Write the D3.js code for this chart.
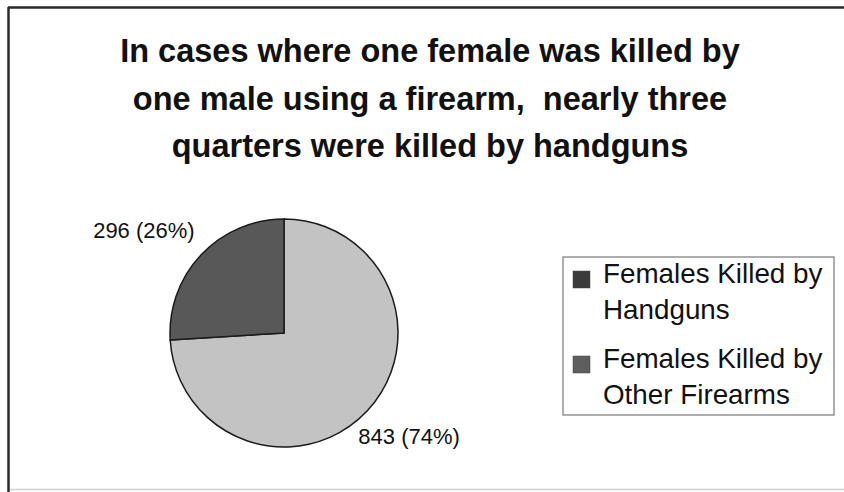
<!DOCTYPE html>
<html>
<head>
<meta charset="utf-8">
<script src="https://cdn.jsdelivr.net/npm/d3@7"></script>
<style>
  body { margin: 0; background: #fff; }
  svg { display: block; font-family: "Liberation Sans", Arial, sans-serif; }
</style>
</head>
<body>
<script>
// data
var categories = ["Females Killed by Handguns", "Females Killed by Other Firearms"];
var counts = [843, 296];
var percents = [74, 26];
var legendLines = [["Females Killed by", "Handguns"], ["Females Killed by", "Other Firearms"]];
var titleLines = ["In cases where one female was killed by",
                  "one male using a firearm,  nearly three",
                  "quarters were killed by handguns"];

var W = 844, H = 492;
var svg = d3.select("body").append("svg")
    .attr("width", W)
    .attr("height", H);

// frame (scanned slide edge)
svg.append("line").attr("x1", 8.5).attr("y1", 7).attr("x2", 8.5).attr("y2", H)
    .attr("stroke", "#2a2a2a").attr("stroke-width", 2.5);
svg.append("line").attr("x1", 8).attr("y1", 7.5).attr("x2", W).attr("y2", 7.5)
    .attr("stroke", "#2a2a2a").attr("stroke-width", 2.5);
svg.append("line").attr("x1", 10).attr("y1", 489.5).attr("x2", W).attr("y2", 489.5)
    .attr("stroke", "#cfcfcf").attr("stroke-width", 1.5);

// title
svg.append("g").selectAll("text")
    .data(titleLines)
    .enter()
    .append("text")
    .attr("x", 430)
    .attr("y", function(d, i) { return 62 + i * 47.5; })
    .attr("text-anchor", "middle")
    .attr("font-size", 32.5)
    .attr("font-weight", "bold")
    .attr("fill", "#111")
    .attr("xml:space", "preserve")
    .text(function(d) { return d; });

// pie
var cx = 284, cy = 333, r = 114;
var colors = ["#c3c3c3", "#585858"];

var pie = d3.pie().sort(null).value(function(d) { return d; });
var arc = d3.arc().innerRadius(0).outerRadius(r);
var labelArc = d3.arc().innerRadius(r * 1.22).outerRadius(r * 1.22);

var pg = svg.append("g").attr("transform", "translate(" + cx + "," + cy + ")");
var arcs = pie(counts);

pg.selectAll("path")
    .data(arcs)
    .enter()
    .append("path")
    .attr("d", arc)
    .attr("fill", function(d, i) { return colors[i]; })
    .attr("stroke", "#1a1a1a")
    .attr("stroke-width", 1.5);

var labelShift = [[-27, 16, "start"], [12, 0, "end"]];
pg.selectAll(".lbl")
    .data(arcs)
    .enter()
    .append("text")
    .attr("class", "lbl")
    .attr("x", function(d, i) { return labelArc.centroid(d)[0] + labelShift[i][0]; })
    .attr("y", function(d, i) { return labelArc.centroid(d)[1] + labelShift[i][1]; })
    .attr("text-anchor", function(d, i) { return labelShift[i][2]; })
    .attr("font-size", 22)
    .attr("fill", "#111")
    .text(function(d, i) { return counts[i] + " (" + percents[i] + "%)"; });

// legend
var lg = svg.append("g");
lg.append("rect")
    .attr("x", 563).attr("y", 257)
    .attr("width", 271).attr("height", 158)
    .attr("fill", "#fff")
    .attr("stroke", "#777").attr("stroke-width", 1.2);

var swatchCols = ["#3a3a3a", "#5e5e5e"];
var items = lg.selectAll(".item")
    .data(categories)
    .enter()
    .append("g")
    .attr("class", "item")
    .attr("transform", function(d, i) { return "translate(0," + (i * 85) + ")"; });

items.append("rect")
    .attr("x", 573).attr("y", 271)
    .attr("width", 17).attr("height", 17)
    .attr("fill", function(d, i) { return swatchCols[i]; })
    .attr("stroke", "#444").attr("stroke-width", 0.5);

items.each(function(d, i) {
  d3.select(this).selectAll("text")
    .data(legendLines[i])
    .enter()
    .append("text")
    .attr("x", 603)
    .attr("y", function(t, j) { return 283 + j * 36; })
    .attr("font-size", 27.8)
    .attr("fill", "#111")
    .text(function(t) { return t; });
});
</script>
</body>
</html>
